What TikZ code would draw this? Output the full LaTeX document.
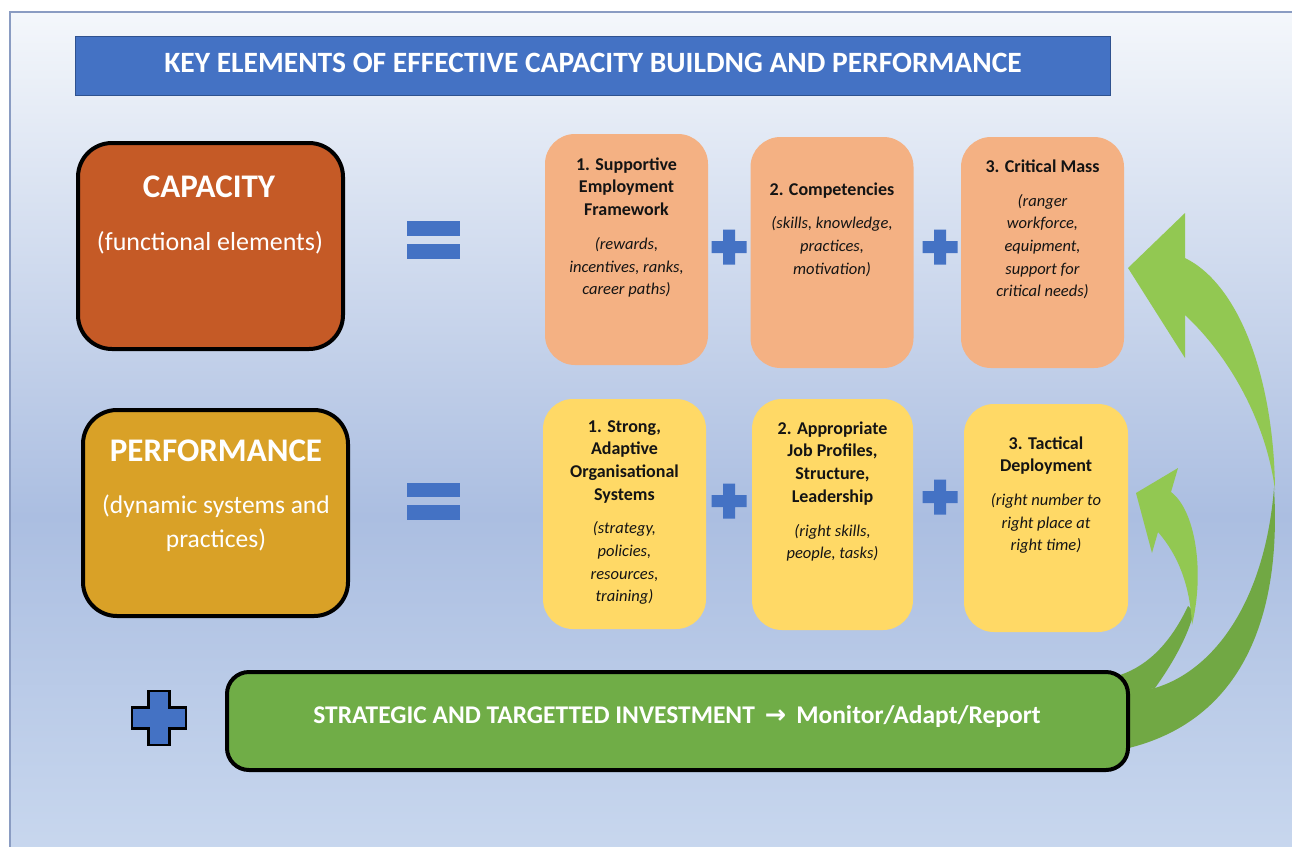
\documentclass[tikz,border=0pt]{standalone}
\usepackage{fontspec}
\setmainfont{Carlito}
\newfontfamily\symfont{DejaVu Sans}
\definecolor{bgtop}{HTML}{F4F7FB}
\definecolor{bgmid}{HTML}{ABBEE1}
\definecolor{bgbot}{HTML}{C8D7EE}
\definecolor{frameblue}{HTML}{8A9CC2}
\definecolor{titleblue}{HTML}{4472C4}
\definecolor{titleedge}{HTML}{2F528F}
\definecolor{capfill}{HTML}{C55A26}
\definecolor{perffill}{HTML}{D9A127}
\definecolor{orangebox}{HTML}{F4B183}
\definecolor{yellowbox}{HTML}{FFD966}
\definecolor{barfill}{HTML}{70AD47}
\definecolor{ltgreen}{HTML}{92C852}
\definecolor{dkgreen}{HTML}{71A844}
\definecolor{plusblue}{HTML}{4472C4}
\definecolor{txtdark}{HTML}{141414}
\pgfdeclareverticalshading{bgshade}{100bp}{color(0bp)=(bgbot); color(25bp)=(bgbot); color(45bp)=(bgmid); color(75bp)=(bgtop); color(100bp)=(bgtop)}
\newcommand\BoxB[1]{\textbf{#1}}
\newcommand\BoxI[1]{{\fontsize{16.5}{21}\selectfont\itshape #1}}
\newcommand\PlusAt[5]{\path[#5] ({#1-#4},{#2-#3}) -- ({#1+#4},{#2-#3}) -- ({#1+#4},{#2-#4}) -- ({#1+#3},{#2-#4}) -- ({#1+#3},{#2+#4}) -- ({#1+#4},{#2+#4}) -- ({#1+#4},{#2+#3}) -- ({#1-#4},{#2+#3}) -- ({#1-#4},{#2+#4}) -- ({#1-#3},{#2+#4}) -- ({#1-#3},{#2-#4}) -- ({#1-#4},{#2-#4}) -- cycle;}
\begin{document}
\begin{tikzpicture}[x=1pt,y=-1pt,
  mainbox/.style={rounded corners=34pt,draw=black,line width=4pt,minimum width=265pt,minimum height=206pt},
  elembox/.style={rounded corners=30pt,minimum height=231pt,minimum width=163pt},
  elemtext/.style={align=center,text=txtdark,inner sep=0pt,font=\fontsize{18}{22.7}\selectfont},
  bigtext/.style={text=white,inner sep=0pt,align=center},
  eqbar/.style={fill=plusblue}
]
\useasboundingbox (0,0) rectangle (1292,846);
% background frame
\path[shading=bgshade] (10,12) rectangle (1300,852);
\draw[frameblue,line width=1.5pt] (1300,12) -- (10,12) -- (10,852);
% title
\node[fill=titleblue,draw=titleedge,line width=1.5pt,minimum width=1035pt,minimum height=59pt,inner sep=0pt] (title) at (593,66) {};
\node[text=white,font=\fontsize{29.5}{33}\selectfont\bfseries,inner sep=0pt] (titletext) at (593,63) {KEY ELEMENTS OF EFFECTIVE CAPACITY BUILDNG AND PERFORMANCE};
% arrows (dark back parts)
\fill[dkgreen] (1274,488) .. controls (1282,620) and (1240,725) .. (1120,750) -- (1120,692) -- (1155,688) .. controls (1215,670) and (1265,600) .. (1274,488) -- cycle;
\fill[dkgreen] (1188,606) .. controls (1172,640) and (1150,665) .. (1120,675) -- (1120,695) -- (1155,688) .. controls (1175,660) and (1188,635) .. (1194,612) -- cycle;
% arrows (light front parts)
\fill[ltgreen] (1128,268) -- (1185,213) -- (1185,258) .. controls (1240,285) and (1274,380) .. (1275,490) .. controls (1266,420) and (1228,355) .. (1185,315) -- (1185,358) -- cycle;
\fill[ltgreen] (1136,493) -- (1178,468) -- (1171,492) .. controls (1195,510) and (1205,570) .. (1192,625) .. controls (1190,585) and (1178,555) .. (1158,532) -- (1152,553) -- cycle;
% main boxes
\node[mainbox,fill=capfill] (cap) at (210.5,246) {};
\node[bigtext,font=\fontsize{33}{36}\selectfont\bfseries] (captitle) at (209,187) {CAPACITY};
\node[bigtext,font=\fontsize{26}{34}\selectfont] (capsub) at (210,243) {(functional elements)};
\node[mainbox,fill=perffill] (perf) at (215.5,513) {};
\node[bigtext,font=\fontsize{33}{36}\selectfont\bfseries] (perftitle) at (216,451) {PERFORMANCE};
\node[bigtext,font=\fontsize{25.5}{34}\selectfont] (perfsub) at (216,523) {(dynamic systems and\\practices)};
% equals signs
\fill[eqbar] (407,221) rectangle (460,236);
\fill[eqbar] (407,244) rectangle (460,259);
\fill[eqbar] (407,483) rectangle (460,497);
\fill[eqbar] (407,505) rectangle (460,520);
% capacity elements
\node[elembox,fill=orangebox] (c1) at (626.5,249.5) {};
\node[elembox,fill=orangebox] (c2) at (832,252.5) {};
\node[elembox,fill=orangebox] (c3) at (1042.5,252.5) {};
\node[elemtext] (c1t) at (626.5,227.5) {\BoxB{1. Supportive}\\\BoxB{Employment}\\\BoxB{Framework}\\[11pt]\BoxI{(rewards,}\\\BoxI{incentives, ranks,}\\\BoxI{career paths)}};
\node[elemtext] (c2t) at (832,229.5) {\BoxB{2. Competencies}\\[11pt]\BoxI{(skills, knowledge,}\\\BoxI{practices,}\\\BoxI{motivation)}};
\node[elemtext] (c3t) at (1042.5,229.5) {\BoxB{3. Critical Mass}\\[11pt]\BoxI{(ranger}\\\BoxI{workforce,}\\\BoxI{equipment,}\\\BoxI{support for}\\\BoxI{critical needs)}};
% performance elements
\node[elembox,fill=yellowbox,minimum height=230pt] (p1) at (624.5,514) {};
\node[elembox,fill=yellowbox,minimum width=161pt] (p2) at (832.5,514.5) {};
\node[elembox,fill=yellowbox,minimum width=164pt,minimum height=228pt] (p3) at (1046,518) {};
\node[elemtext] (p1t) at (624.5,512.5) {\BoxB{1. Strong,}\\\BoxB{Adaptive}\\\BoxB{Organisational}\\\BoxB{Systems}\\[11pt]\BoxI{(strategy,}\\\BoxI{policies,}\\\BoxI{resources,}\\\BoxI{training)}};
\node[elemtext] (p2t) at (832.5,491.5) {\BoxB{2. Appropriate}\\\BoxB{Job Profiles,}\\\BoxB{Structure,}\\\BoxB{Leadership}\\[11pt]\BoxI{(right skills,}\\\BoxI{people, tasks)}};
\node[elemtext] (p3t) at (1046,495) {\BoxB{3. Tactical}\\\BoxB{Deployment}\\[11pt]\BoxI{(right number to}\\\BoxI{right place at}\\\BoxI{right time)}};
% small plus signs
\PlusAt{729}{247}{17.5}{6}{fill=plusblue}
\PlusAt{940}{247}{17.5}{6}{fill=plusblue}
\PlusAt{729}{501}{17.5}{6}{fill=plusblue}
\PlusAt{940}{497}{17.5}{6}{fill=plusblue}
% big plus
\PlusAt{159}{718}{27}{10.5}{fill=plusblue,draw=black,line width=2.5pt}
% investment bar
\node[rounded corners=22pt,draw=black,line width=4pt,fill=barfill,minimum width=901pt,minimum height=98pt] (invest) at (677.5,721) {};
\node[text=white,font=\fontsize{25.5}{28}\selectfont\bfseries,inner sep=0pt] (investtext) at (677,717) {STRATEGIC AND TARGETTED INVESTMENT \,{\symfont\bfseries →}\, Monitor/Adapt/Report};
\end{tikzpicture}
\end{document}
